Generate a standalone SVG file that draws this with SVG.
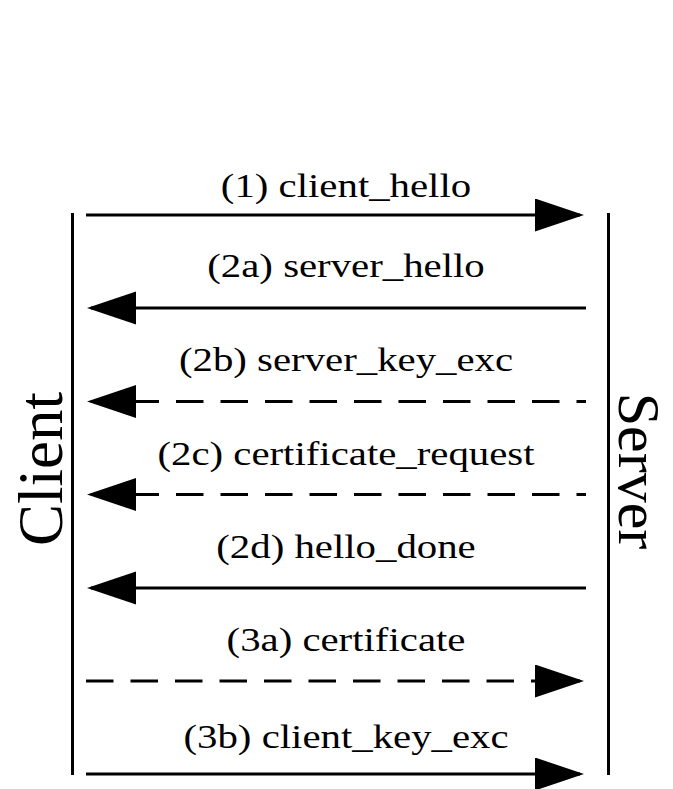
<svg xmlns="http://www.w3.org/2000/svg" width="673" height="789" viewBox="0 0 673 789">
<style>
.lbl{font-family:"Liberation Serif","Times New Roman",serif;font-size:34px;fill:#000;text-anchor:middle}
.side{font-family:"Liberation Serif","Times New Roman",serif;fill:#000;text-anchor:middle}
.life{stroke:#000;stroke-width:3;fill:none}
.msg{stroke:#000;stroke-width:3;fill:none}
.dash{stroke-dasharray:27.5 17}
</style>
<defs>
<marker id="ah" markerUnits="userSpaceOnUse" markerWidth="52" markerHeight="36" refX="45" refY="16.5" orient="auto-start-reverse" viewBox="0 0 52 36">
<path d="M0,0 L49,16.5 L0,33 Z" fill="#000"/>
</marker>
</defs>
<rect width="673" height="789" fill="#fff"/>
<g id="client">
<line class="life" x1="72.5" y1="213" x2="72.5" y2="775"/>
<text class="side" font-size="63" transform="translate(62,469) rotate(-90)">Client</text>
</g>
<g id="server">
<line class="life" x1="608.5" y1="213" x2="608.5" y2="775"/>
<text class="side" font-size="60" transform="translate(619,471) rotate(90)">Server</text>
</g>
<g id="connectors">
<path id="m1" class="msg" d="M86,215 H580" marker-end="url(#ah)"/>
<path id="m2a" class="msg" d="M91,308 H586" marker-start="url(#ah)"/>
<path id="m2b" class="msg dash" stroke-dashoffset="4" d="M91,401.5 H586" marker-start="url(#ah)"/>
<path id="m2c" class="msg dash" stroke-dashoffset="4" d="M91,494.5 H586" marker-start="url(#ah)"/>
<path id="m2d" class="msg" d="M91,588 H586" marker-start="url(#ah)"/>
<path id="m3a" class="msg dash" d="M86,681 H580" marker-end="url(#ah)"/>
<path id="m3b" class="msg" d="M86,774 H580" marker-end="url(#ah)"/>
</g>
<g id="labels">
<text class="lbl" transform="translate(346,197) scale(1.2,1)">(1) client_hello</text>
<text class="lbl" transform="translate(346,277) scale(1.2,1)">(2a) server_hello</text>
<text class="lbl" transform="translate(346,371) scale(1.2,1)">(2b) server_key_exc</text>
<text class="lbl" transform="translate(346,465) scale(1.2,1)">(2c) certificate_request</text>
<text class="lbl" transform="translate(346,558) scale(1.2,1)">(2d) hello_done</text>
<text class="lbl" transform="translate(346,651) scale(1.2,1)">(3a) certificate</text>
<text class="lbl" transform="translate(346,748) scale(1.2,1)">(3b) client_key_exc</text>
</g>
</svg>
